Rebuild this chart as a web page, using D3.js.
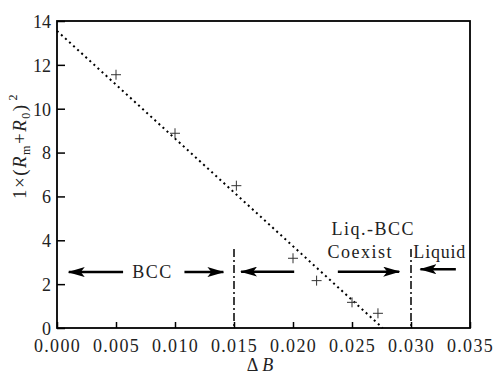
<!DOCTYPE html>
<html>
<head>
<meta charset="utf-8">
<script src="https://cdn.jsdelivr.net/npm/d3@7"></script>
<style>
  body { margin: 0; background: #fff; }
  svg text { font-family: "Liberation Serif", "Times New Roman", serif; fill: #222; }
</style>
</head>
<body>
<div id="chart"></div>
<script>
// data
var deltaB = [0.005, 0.010, 0.0152, 0.020, 0.022, 0.025, 0.0272];
var rValue = [11.55, 8.88, 6.49, 3.18, 2.16, 1.17, 0.67];
var fitX = [0, 0.0276];
var fitY = [13.55, 0];
var xTicks = [0, 0.005, 0.010, 0.015, 0.020, 0.025, 0.030, 0.035];
var yTicks = [0, 2, 4, 6, 8, 10, 12, 14];
var boundaries = [0.015, 0.030];
var boundaryTop = 3.6;
// arrows: [tail, tip, y]
var arrows = [
  [0.0056, 0.0010, 2.55],
  [0.0108, 0.0141, 2.55],
  [0.0201, 0.0156, 2.57],
  [0.0238, 0.0290, 2.57],
  [0.0338, 0.0308, 2.68]
];

var width = 502, height = 379;
var margin = { left: 57, right: 32, top: 21, bottom: 51 };

var svg = d3.select("#chart").append("svg")
  .attr("width", width).attr("height", height);

var x = d3.scaleLinear().domain([0, 0.035]).range([margin.left, width - margin.right]);
var y = d3.scaleLinear().domain([0, 14]).range([height - margin.bottom, margin.top]);

// arrow head
svg.append("defs").append("marker")
  .attr("id", "head")
  .attr("viewBox", "0 0 17 10")
  .attr("refX", 16).attr("refY", 5)
  .attr("markerWidth", 17).attr("markerHeight", 10)
  .attr("markerUnits", "userSpaceOnUse")
  .attr("orient", "auto")
  .append("path")
  .attr("d", "M0,0 L17,5 L0,10 L4,5 Z")
  .attr("fill", "#000");

// axes
var xAxis = svg.append("g")
  .attr("transform", "translate(0," + y(0) + ")")
  .call(d3.axisBottom(x).tickValues(xTicks).tickSizeInner(-6).tickSizeOuter(0)
    .tickFormat(d3.format(".3f")).tickPadding(11));
var yAxis = svg.append("g")
  .attr("transform", "translate(" + x(0) + ",0)")
  .call(d3.axisLeft(y).tickValues(yTicks).tickSizeInner(-8).tickSizeOuter(0).tickPadding(6));

[xAxis, yAxis].forEach(function (g) {
  g.attr("font-family", null).attr("font-size", null);
  g.select(".domain").remove();
  g.selectAll(".tick line").attr("stroke", "#000").attr("stroke-width", 1.5);
  g.selectAll("text").style("font-size", "18px");
});
xAxis.selectAll("text").attr("letter-spacing", 1.3);
yAxis.selectAll("text").attr("dy", "0.35em");

// frame
svg.append("rect")
  .attr("x", x(0)).attr("y", y(14))
  .attr("width", x(0.035) - x(0)).attr("height", y(0) - y(14))
  .attr("fill", "none").attr("stroke", "#000").attr("stroke-width", 1.8);

// fitted dotted line
svg.append("line")
  .attr("x1", x(fitX[0])).attr("y1", y(fitY[0]))
  .attr("x2", x(fitX[1])).attr("y2", y(fitY[1]))
  .attr("stroke", "#000").attr("stroke-width", 2)
  .attr("stroke-dasharray", "2,3.5");

// data markers
var pts = deltaB.map(function (d, i) { return [d, rValue[i]]; });
svg.append("g").selectAll("path").data(pts).enter().append("path")
  .attr("d", function (d) {
    var cx = x(d[0]), cy = y(d[1]), s = 5;
    return "M" + (cx - s) + "," + cy + "H" + (cx + s) + "M" + cx + "," + (cy - s) + "V" + (cy + s);
  })
  .attr("stroke", "#333").attr("stroke-width", 1).attr("fill", "none");

// phase boundaries
svg.append("g").selectAll("line").data(boundaries).enter().append("line")
  .attr("x1", function (d) { return x(d); }).attr("x2", function (d) { return x(d); })
  .attr("y1", y(boundaryTop)).attr("y2", y(0))
  .attr("stroke", "#000").attr("stroke-width", 1.5)
  .attr("stroke-dasharray", "8,3,2,3");

// arrows
svg.append("g").selectAll("line").data(arrows).enter().append("line")
  .attr("x1", function (d) { return x(d[0]); }).attr("x2", function (d) { return x(d[1]); })
  .attr("y1", function (d) { return y(d[2]); }).attr("y2", function (d) { return y(d[2]); })
  .attr("stroke", "#000").attr("stroke-width", 2.5)
  .attr("marker-end", "url(#head)");

// region labels
var labels = svg.append("g").style("font-size", "18px").attr("letter-spacing", 1.5);
labels.append("text").attr("x", x(0.0081)).attr("y", y(2.55) + 6).attr("text-anchor", "middle").text("BCC");
labels.append("text").attr("x", x(0.0268)).attr("y", y(4.25)).attr("text-anchor", "middle").text("Liq.-BCC");
labels.append("text").attr("x", x(0.0257)).attr("y", y(3.2)).attr("text-anchor", "middle").text("Coexist");
labels.append("text").attr("x", x(0.0302)).attr("y", y(3.2)).attr("text-anchor", "start")
  .attr("letter-spacing", 0.8).text("Liquid");

// axis titles
var xt = svg.append("text").attr("x", 260).attr("y", 371).attr("text-anchor", "middle")
  .style("font-size", "18px");
xt.append("tspan").text("Δ");
xt.append("tspan").attr("font-style", "italic").attr("dx", 4).text("B");

var yt = svg.append("text").attr("transform", "translate(26,146) rotate(-90)")
  .attr("text-anchor", "middle").style("font-size", "19px").attr("letter-spacing", 1.5);
yt.append("tspan").text("1×(");
yt.append("tspan").attr("font-style", "italic").text("R");
yt.append("tspan").style("font-size", "12px").attr("dy", 4).text("m");
yt.append("tspan").attr("dy", -4).text("+");
yt.append("tspan").attr("font-style", "italic").text("R");
yt.append("tspan").style("font-size", "12px").attr("dy", 4).text("0");
yt.append("tspan").attr("dy", -4).text(")");
yt.append("tspan").style("font-size", "12px").attr("dy", -9).attr("dx", 3).text("2");
</script>
</body>
</html>
